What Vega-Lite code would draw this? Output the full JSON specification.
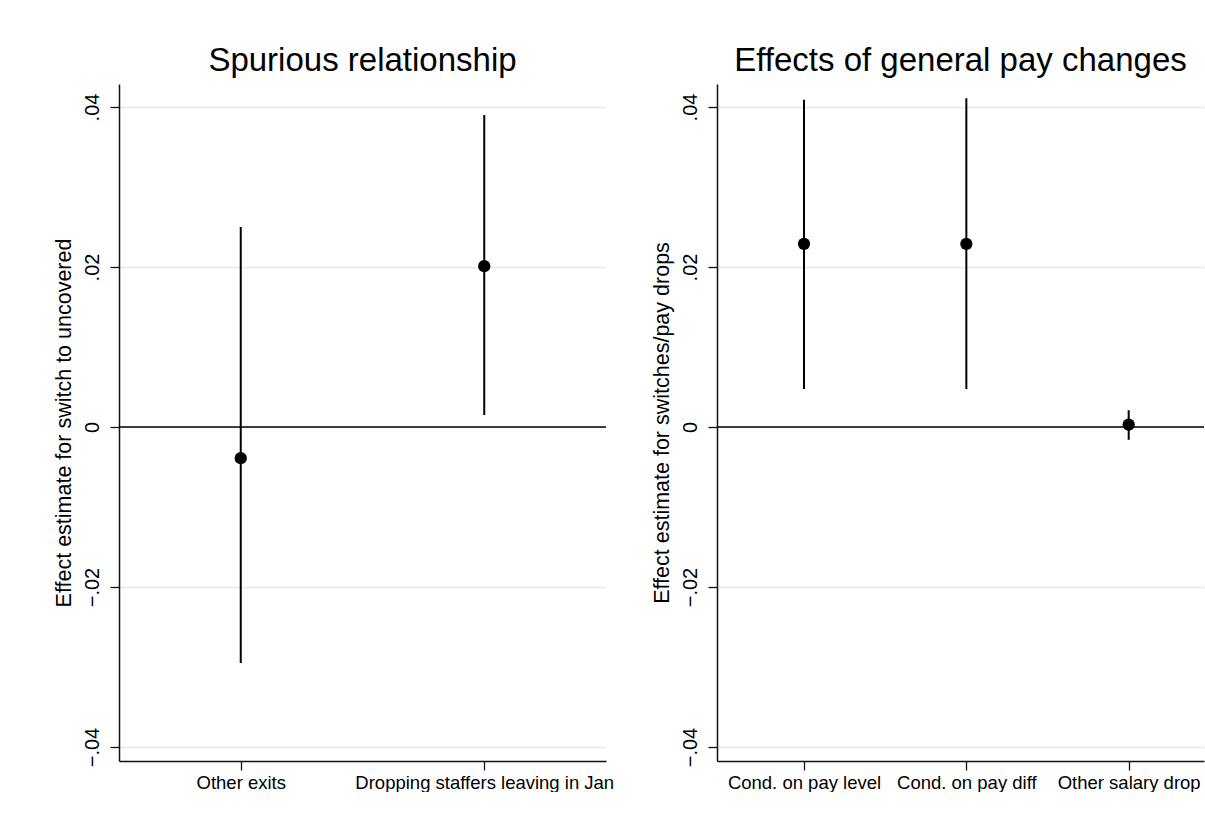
{
  "$schema": "https://vega.github.io/schema/vega-lite/v6.json",
  "padding": {"left": 53, "top": 45, "right": 0, "bottom": 0},
  "background": "white",
  "config": {
    "font": "Liberation Sans",
    "view": {"stroke": null},
    "axis": {"domainColor": "#111", "tickColor": "#111", "labelColor": "#000", "titleColor": "#000", "tickSize": 9, "titleFontWeight": "normal", "domainWidth": 1.5, "tickWidth": 1.3, "labelLimit": 1000},
    "axisY": {"labelAngle": -90, "labelAlign": "center", "labelBaseline": "bottom", "labelFontSize": 20, "titleFontSize": 21.5, "labelPadding": 8, "titlePadding": 7, "grid": true, "gridColor": "#e3ebf0", "gridWidth": 1.3},
    "axisX": {"labelAngle": 0, "labelFontSize": 18.5, "labelPadding": 3, "grid": false},
    "title": {"fontSize": 33, "fontWeight": "normal", "color": "#000", "offset": 6}
  },
  "datasets": {
    "left": [
      {"group": "Other exits", "est": -0.0039, "low": -0.0295, "high": 0.025},
      {"group": "Dropping staffers leaving in Jan", "est": 0.0201, "low": 0.0015, "high": 0.039}
    ],
    "right": [
      {"group": "Cond. on pay level", "est": 0.0229, "low": 0.00475, "high": 0.0409},
      {"group": "Cond. on pay diff", "est": 0.0229, "low": 0.00475, "high": 0.0411},
      {"group": "Other salary drop", "est": 0.0003, "low": -0.0016, "high": 0.0021}
    ],
    "zero": [{"z": 0}]
  },
  "spacing": 111,
  "bounds": "flush",
  "hconcat": [
    {
      "title": "Spurious relationship",
      "width": 487,
      "height": 677,
      "layer": [
        {
          "data": {"name": "left"},
          "mark": {"type": "rule", "color": "#000", "strokeWidth": 2},
          "encoding": {
            "x": {"field": "group", "type": "nominal", "sort": null, "scale": {"type": "point", "padding": 0.5}, "axis": {"title": null}},
            "y": {"field": "low", "type": "quantitative", "scale": {"domain": [-0.04175, 0.042875], "nice": false, "zero": false}, "axis": {"title": "Effect estimate for switch to uncovered", "values": [-0.04, -0.02, 0, 0.02, 0.04], "labelExpr": "datum.value == 0 ? '0' : replace(format(datum.value, '.2f'), '0.', '.')"}},
            "y2": {"field": "high"}
          }
        },
        {
          "data": {"name": "zero"},
          "mark": {"type": "rule", "color": "#000", "strokeWidth": 1.7},
          "encoding": {
            "y": {"field": "z", "type": "quantitative", "axis": {"title": "Effect estimate for switch to uncovered", "values": [-0.04, -0.02, 0, 0.02, 0.04], "labelExpr": "datum.value == 0 ? '0' : replace(format(datum.value, '.2f'), '0.', '.')"}}
          }
        },
        {
          "data": {"name": "left"},
          "mark": {"type": "point", "filled": true, "color": "#000", "opacity": 1, "size": 150},
          "encoding": {
            "x": {"field": "group", "type": "nominal", "sort": null, "axis": {"title": null}},
            "y": {"field": "est", "type": "quantitative", "axis": {"title": "Effect estimate for switch to uncovered", "values": [-0.04, -0.02, 0, 0.02, 0.04], "labelExpr": "datum.value == 0 ? '0' : replace(format(datum.value, '.2f'), '0.', '.')"}}
          }
        }
      ]
    },
    {
      "title": "Effects of general pay changes",
      "width": 487,
      "height": 677,
      "layer": [
        {
          "data": {"name": "right"},
          "mark": {"type": "rule", "color": "#000", "strokeWidth": 2},
          "encoding": {
            "x": {"field": "group", "type": "nominal", "sort": null, "scale": {"type": "point", "padding": 0.5, "align": 0.536}, "axis": {"title": null}},
            "y": {"field": "low", "type": "quantitative", "scale": {"domain": [-0.04175, 0.042875], "nice": false, "zero": false}, "axis": {"title": "Effect estimate for switches/pay drops", "values": [-0.04, -0.02, 0, 0.02, 0.04], "labelExpr": "datum.value == 0 ? '0' : replace(format(datum.value, '.2f'), '0.', '.')"}},
            "y2": {"field": "high"}
          }
        },
        {
          "data": {"name": "zero"},
          "mark": {"type": "rule", "color": "#000", "strokeWidth": 1.7},
          "encoding": {
            "y": {"field": "z", "type": "quantitative", "axis": {"title": "Effect estimate for switches/pay drops", "values": [-0.04, -0.02, 0, 0.02, 0.04], "labelExpr": "datum.value == 0 ? '0' : replace(format(datum.value, '.2f'), '0.', '.')"}}
          }
        },
        {
          "data": {"name": "right"},
          "mark": {"type": "point", "filled": true, "color": "#000", "opacity": 1, "size": 150},
          "encoding": {
            "x": {"field": "group", "type": "nominal", "sort": null, "axis": {"title": null}},
            "y": {"field": "est", "type": "quantitative", "axis": {"title": "Effect estimate for switches/pay drops", "values": [-0.04, -0.02, 0, 0.02, 0.04], "labelExpr": "datum.value == 0 ? '0' : replace(format(datum.value, '.2f'), '0.', '.')"}}
          }
        }
      ]
    }
  ]
}
